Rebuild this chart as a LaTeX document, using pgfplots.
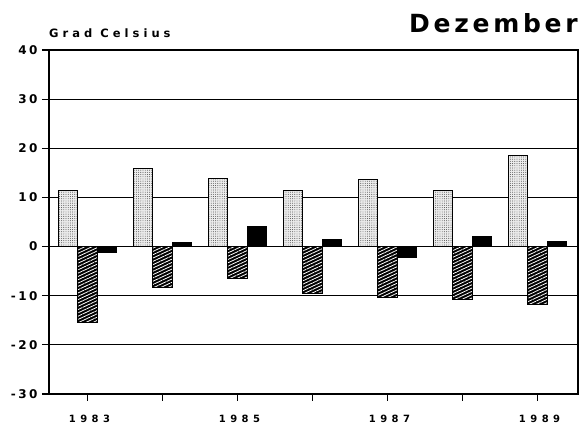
\documentclass[border=0pt]{standalone}
\usepackage{pgfplots}
\pgfplotsset{compat=1.18}
\usepackage{fontspec}
\setmainfont{DejaVu Sans}
\newfontfamily\tickfont[LetterSpace=20]{DejaVu Sans}
\newfontfamily\xfont[LetterSpace=45]{DejaVu Sans}
\newfontfamily\unitfont[LetterSpace=35]{DejaVu Sans}
\newfontfamily\titlefont[LetterSpace=15]{DejaVu Sans}
\usetikzlibrary{patterns,patterns.meta}
\begin{document}
\begin{tikzpicture}
\begin{axis}[
  name=ax,
  scale only axis,
  clip=false,
  width=529pt, height=344pt,
  xmin=-0.513, xmax=6.54,
  ymin=-30, ymax=40,
  ytick={-30,-20,...,40},
  xtick={0,1,2,3,4,5,6},
  xticklabels={1983,,1985,,1987,,1989},
  tick align=outside,
  xtick pos=left, ytick pos=left,
  major tick length=7pt,
  ymajorgrids,
  grid style={black, line width=1.1pt},
  axis line style={line width=1.6pt},
  tick style={black, line width=1.2pt},
  /pgf/number format/assume math mode=true,
  yticklabel style={font=\tickfont\fontsize{12}{14}\selectfont\bfseries, xshift=-1pt},
  xticklabel style={font=\xfont\fontsize{10}{12}\selectfont\bfseries, yshift=-11pt, xshift=2pt},
]
\addplot[ybar, bar width=0.26, bar shift=-0.26, draw=black, line width=1pt,
  fill=gray!15, postaction={pattern={Dots[distance=2.2pt, radius=0.45pt]}, pattern color=black!80}]
  coordinates {(0,11.4) (1,15.8) (2,13.9) (3,11.5) (4,13.7) (5,11.4) (6,18.5)};
\addplot[ybar, bar width=0.26, bar shift=0, draw=black, line width=1pt,
  fill=black, postaction={pattern={Lines[angle=25, distance=3pt, line width=0.8pt]}, pattern color=white}]
  coordinates {(0,-15.4) (1,-8.3) (2,-6.4) (3,-9.5) (4,-10.3) (5,-10.8) (6,-11.8)};
\addplot[ybar, bar width=0.26, bar shift=0.26, draw=black, line width=1pt, fill=black]
  coordinates {(0,-1.3) (1,0.9) (2,4.0) (3,1.5) (4,-2.3) (5,2.1) (6,1.1)};
\end{axis}
\node[anchor=base west, inner sep=0pt, font=\unitfont\fontsize{11.5}{13}\selectfont\bfseries]
  at ([yshift=12pt]ax.north west) {Grad Celsius};
\node[anchor=base east, inner sep=0pt, font=\titlefont\fontsize{25}{28}\selectfont\bfseries]
  at ([yshift=17pt]ax.north east) {Dezember};
\pgfresetboundingbox
\path ([xshift=-49pt,yshift=-38pt]ax.south west) rectangle ([xshift=5pt,yshift=50pt]ax.north east);
\end{tikzpicture}
\end{document}
